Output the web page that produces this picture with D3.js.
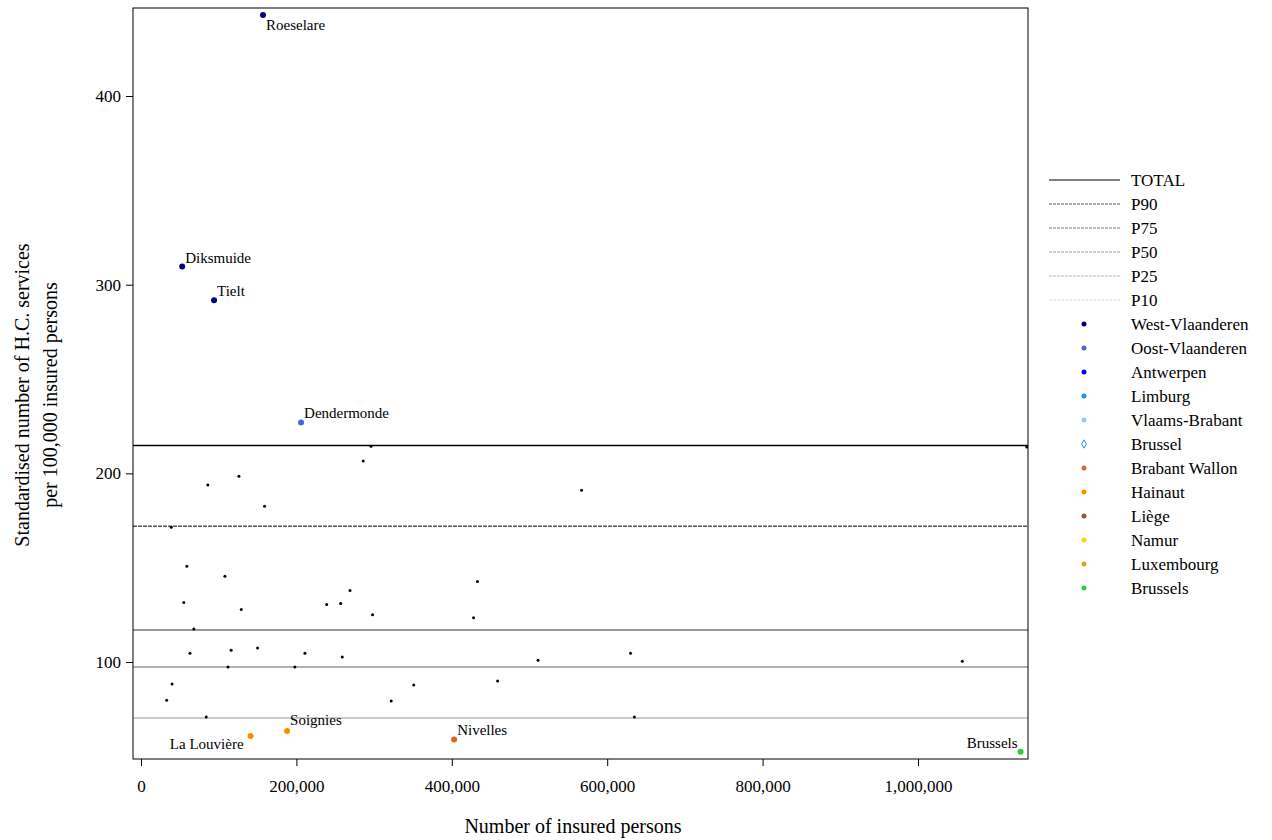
<!DOCTYPE html>
<html><head><meta charset="utf-8">
<script src="https://cdn.jsdelivr.net/npm/d3@7"></script>
<style>body{margin:0;background:#fff}svg text{font-family:"Liberation Serif",serif !important}</style>
</head><body><svg id="c" width="1272" height="840"></svg>
<script>
const labelled = [
 {name:"Roeselare",x:157000,y:442.9,prov:"West-Vlaanderen",dx:3,dy:15,anchor:"start"},
 {name:"Diksmuide",x:53000,y:309.6,prov:"West-Vlaanderen",dx:3,dy:-4,anchor:"start"},
 {name:"Tielt",x:94000,y:291.8,prov:"West-Vlaanderen",dx:3,dy:-4,anchor:"start"},
 {name:"Dendermonde",x:206000,y:227,prov:"Oost-Vlaanderen",dx:3,dy:-4,anchor:"start"},
 {name:"La Louvière",x:141000,y:60.8,prov:"Hainaut",dx:-7,dy:13,anchor:"end"},
 {name:"Soignies",x:188000,y:63.4,prov:"Hainaut",dx:3,dy:-6,anchor:"start"},
 {name:"Nivelles",x:403000,y:59,prov:"Brabant Wallon",dx:3,dy:-4,anchor:"start"},
 {name:"Brussels",x:1132000,y:52.4,prov:"Brussels",dx:-3,dy:-4,anchor:"end"}
];
const otherX = [296000,286000,126000,86000,159000,567000,39000,59000,108000,433000,269000,55000,239000,257000,129000,298000,428000,68000,63000,116000,150000,211000,259000,630000,511000,1057000,112000,198000,40000,351000,459000,33000,322000,84000,635000,1140000];
const otherY = [214.4,206.5,198.5,193.8,182.6,191.1,171.4,150.7,145.4,142.7,137.9,131.6,130.5,131,127.8,125.1,123.5,117.5,104.7,106.3,107.4,104.7,102.6,104.7,101,100.4,97.3,97.3,88.3,87.8,90,79.8,79.3,70.8,70.8,214];
const refNames = ["TOTAL","P90","P75","P50","P25","P10"];
const refValues = [214.7,172,117,97.3,70.3,40];
const refColors = ["#000","#555","#777","#999","#bbb","#ddd"];
const lineDash = [null,"4,1",null,null,null,null];
const legDash = [null,"3,1","3,1","3,1","3,1","3,1"];
const provinces = ["West-Vlaanderen","Oost-Vlaanderen","Antwerpen","Limburg","Vlaams-Brabant","Brussel","Brabant Wallon","Hainaut","Liège","Namur","Luxembourg","Brussels"];
const provColors = ["#000080","#4169E1","#0000FF","#1E90FF","#87CEFA","#1E90FF","#D2691E","#FF8C00","#A0522D","#FFD700","#DAA520","#32CD32"];
const xTicks = [0,200000,400000,600000,800000,1000000];
const yTicks = [100,200,300,400];

const svg = d3.select("#c");
const L=133,R=1028,T=8,B=759;
const x = d3.scaleLinear().domain([0,1000000]).range([141,918]);
const y = d3.scaleLinear().domain([0,400]).range([850.7,96]);
const col = d3.scaleOrdinal(provinces,provColors);

const g = svg.append("g");
g.append("defs").append("clipPath").attr("id","cp").append("rect").attr("x",L).attr("y",T).attr("width",R-L).attr("height",B-T);
const pl = g.append("g").attr("clip-path","url(#cp)");
refValues.forEach((v,i)=>{
  pl.append("line").attr("x1",L).attr("x2",R).attr("y1",y(v)).attr("y2",y(v))
   .attr("stroke",refColors[i]).attr("stroke-width",1.5).attr("stroke-dasharray",lineDash[i]);
});
pl.selectAll(".o").data(otherX.map((d,i)=>[d,otherY[i]])).join("circle")
 .attr("cx",d=>x(d[0])).attr("cy",d=>y(d[1])).attr("r",1.5).attr("fill","#000");
pl.selectAll(".l").data(labelled).join("circle")
 .attr("cx",d=>x(d.x)).attr("cy",d=>y(d.y)).attr("r",3).attr("fill",d=>col(d.prov));
g.selectAll(".t").data(labelled).join("text")
 .attr("x",d=>x(d.x)+d.dx).attr("y",d=>y(d.y)+d.dy).attr("text-anchor",d=>d.anchor)
 .attr("font-size",15).text(d=>d.name);

g.append("rect").attr("x",L).attr("y",T).attr("width",R-L).attr("height",B-T).attr("fill","none").attr("stroke","#000");
const xa = g.append("g").attr("transform",`translate(0,${B})`).call(d3.axisBottom(x).tickValues(xTicks).tickFormat(d3.format(",")).tickSize(7).tickSizeOuter(0));
xa.select(".domain").remove();
xa.selectAll("text").attr("font-size",17).attr("dy","1.35em");
const ya = g.append("g").attr("transform",`translate(${L},0)`).call(d3.axisLeft(y).tickValues(yTicks).tickSize(7).tickSizeOuter(0));
ya.select(".domain").remove();
ya.selectAll("text").attr("font-size",17).attr("x",-12);

g.append("text").attr("x",573).attr("y",833).attr("text-anchor","middle").attr("font-size",20).text("Number of insured persons");
const yt = g.append("text").attr("transform","translate(29,395) rotate(-90)").attr("text-anchor","middle").attr("font-size",20);
yt.append("tspan").attr("x",0).attr("dy",0).text("Standardised number of H.C. services");
yt.append("tspan").attr("x",0).attr("dy",28).text("per 100,000 insured persons");

const lg = g.append("g");
refNames.forEach((n,i)=>{
  const yy=180+i*24;
  lg.append("line").attr("x1",1049).attr("x2",1120).attr("y1",yy).attr("y2",yy).attr("stroke",refColors[i]).attr("stroke-width",1).attr("stroke-dasharray",legDash[i]);
  lg.append("text").attr("x",1131).attr("y",yy+6).attr("font-size",17).text(n);
});
provinces.forEach((n,i)=>{
  const yy=324+i*24;
  if(n==="Brussel") lg.append("path").attr("d",d3.symbol(d3.symbolDiamond,20)()).attr("transform",`translate(1084,${yy})`).attr("fill","none").attr("stroke",provColors[i]);
  else lg.append("circle").attr("cx",1084).attr("cy",yy).attr("r",2.5).attr("fill",provColors[i]);
  lg.append("text").attr("x",1131).attr("y",yy+6).attr("font-size",17).text(n);
});
</script></body></html>
